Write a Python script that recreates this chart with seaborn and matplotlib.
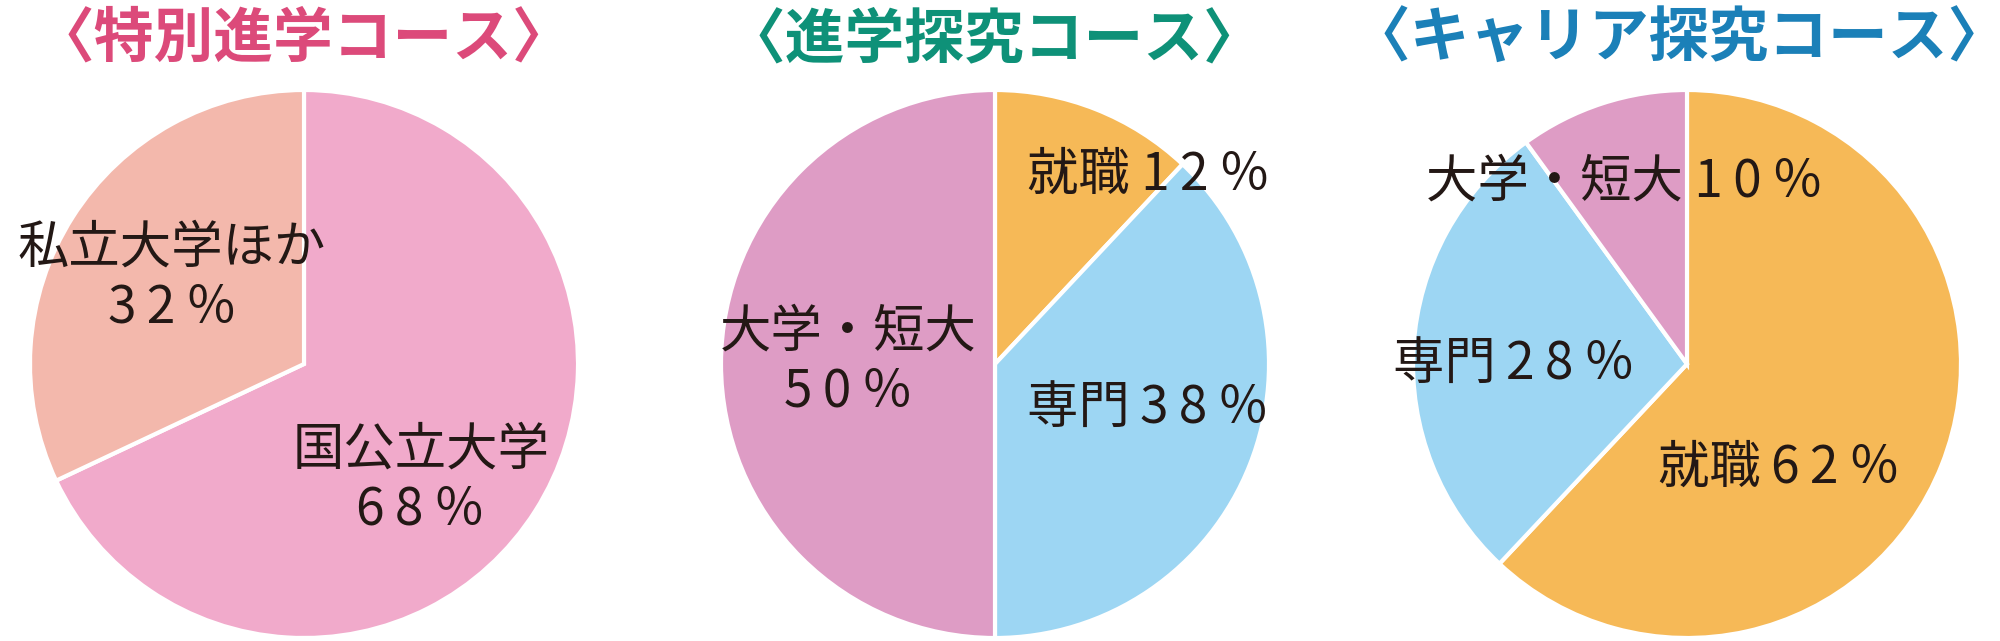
import matplotlib
matplotlib.use("Agg")
import matplotlib.pyplot as plt
import seaborn as sns

sns.set_theme(style="white")
plt.rcParams["font.family"] = ["Noto Sans CJK JP", "DejaVu Sans"]

# data
course_titles = ["〈特別進学コース〉", "〈進学探究コース〉", "〈キャリア探究コース〉"]
title_colors = ["#DC4A7A", "#0E9178", "#1B80B8"]

tokushin_labels = ["国公立大学", "私立大学ほか"]
tokushin_values = [68, 32]
tokushin_colors = ["#F1AACB", "#F3B8AC"]

shingaku_labels = ["就職", "専門", "大学・短大"]
shingaku_values = [12, 38, 50]
shingaku_colors = ["#F6B957", "#9DD6F3", "#DE9CC5"]

career_labels = ["就職", "専門", "大学・短大"]
career_values = [62, 28, 10]
career_colors = ["#F6B957", "#9DD6F3", "#DE9CC5"]

TS = "\u2009"  # thin space (falls back to DejaVu) for looser tracking


def pct(v):
    return TS.join(str(v)) + TS + "％"


W, H = 2000, 641
fig = plt.figure(figsize=(20, 6.41), dpi=100)
ax = fig.add_axes([0, 0, 1, 1])

txt = "#231815"
R = 274
cy = H - 364

pies = [
    (304, tokushin_values, tokushin_colors),
    (995, shingaku_values, shingaku_colors),
    (1687, career_values, career_colors),
]
for cx, vals, cols in pies:
    ax.pie(vals, colors=cols, startangle=90, counterclock=False,
           center=(cx, cy), radius=R, frame=True,
           wedgeprops=dict(edgecolor="white", linewidth=3))
ax.set_xlim(0, W)
ax.set_ylim(0, H)
ax.set_aspect("equal")
ax.axis("off")

# titles
for cx, t, c in zip([303, 994, 1679], course_titles, title_colors):
    ax.text(cx, H - 40, t, ha="center", va="center", fontsize=43,
            fontweight="bold", color=c)

fs = 37
ls = 1.15
# pie 1 labels
ax.text(172, H - 278, f"{tokushin_labels[1]}\n{pct(tokushin_values[1])}",
        ha="center", va="center", fontsize=fs, color=txt, linespacing=ls)
ax.text(421, H - 480, f"{tokushin_labels[0]}\n{pct(tokushin_values[0])}",
        ha="center", va="center", fontsize=fs, color=txt, linespacing=ls)

# pie 2 labels
ax.text(1027, H - 175, f"{shingaku_labels[0]} {pct(shingaku_values[0])}",
        ha="left", va="center", fontsize=fs, color=txt)
ax.text(1027, H - 408, f"{shingaku_labels[1]}{TS}{pct(shingaku_values[1])}",
        ha="left", va="center", fontsize=fs, color=txt)
ax.text(848, H - 362, f"{shingaku_labels[2]}\n{pct(shingaku_values[2])}",
        ha="center", va="center", fontsize=fs, color=txt, linespacing=ls)

# pie 3 labels
ax.text(1658, H - 468, f"{career_labels[0]}{TS}{pct(career_values[0])}",
        ha="left", va="center", fontsize=fs, color=txt)
ax.text(1393, H - 364, f"{career_labels[1]}{TS}{pct(career_values[1])}",
        ha="left", va="center", fontsize=fs, color=txt)
ax.text(1426, H - 182, f"{career_labels[2]} {pct(career_values[2])}",
        ha="left", va="center", fontsize=fs, color=txt)

fig.savefig("out.png", dpi=100, facecolor="white")
